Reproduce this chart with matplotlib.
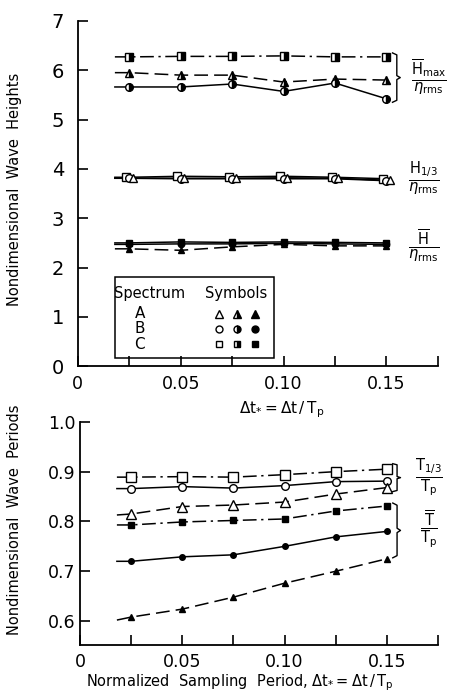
import matplotlib
matplotlib.use("Agg")
import matplotlib.pyplot as plt
from matplotlib.patches import Rectangle
from matplotlib.lines import Line2D
import matplotlib.transforms as mtransforms

# sampling periods (first entry = where the drawn lines begin)
dt = [0.018, 0.025, 0.05, 0.075, 0.10, 0.125, 0.15]

# wave heights / eta_rms
hmax_a = [5.95, 5.95, 5.90, 5.90, 5.76, 5.82, 5.80]
hmax_b = [5.66, 5.66, 5.66, 5.72, 5.57, 5.74, 5.42]
hmax_c = [6.27, 6.27, 6.28, 6.28, 6.29, 6.27, 6.27]
h13_a = [3.81, 3.81, 3.81, 3.81, 3.82, 3.81, 3.77]
h13_b = [3.81, 3.81, 3.80, 3.80, 3.80, 3.80, 3.76]
h13_c = [3.83, 3.83, 3.85, 3.84, 3.85, 3.83, 3.80]
hbar_a = [2.38, 2.38, 2.35, 2.42, 2.47, 2.44, 2.44]
hbar_b = [2.47, 2.47, 2.48, 2.48, 2.49, 2.48, 2.47]
hbar_c = [2.50, 2.50, 2.52, 2.51, 2.52, 2.51, 2.50]

# wave periods / Tp
t13_a = [0.813, 0.815, 0.830, 0.833, 0.839, 0.855, 0.868]
t13_b = [0.866, 0.866, 0.870, 0.867, 0.872, 0.880, 0.881]
t13_c = [0.889, 0.889, 0.890, 0.889, 0.894, 0.900, 0.905]
tbar_a = [0.602, 0.608, 0.624, 0.648, 0.676, 0.700, 0.725]
tbar_b = [0.720, 0.720, 0.729, 0.733, 0.750, 0.769, 0.780]
tbar_c = [0.793, 0.793, 0.799, 0.802, 0.805, 0.821, 0.831]

xticks = [0, 0.05, 0.10, 0.15]
xticklabels = ['0', '0.05', '0.10', '0.15']

K = 'black'
SOLID = '-'
DASH = (0, (9, 4))
DASHDOT = (0, (9, 3, 1.5, 3))

fig = plt.figure(figsize=(4.5, 6.95), dpi=100)
ax1 = fig.add_axes([0.173, 0.473, 0.80, 0.497])
ax2 = fig.add_axes([0.178, 0.072, 0.795, 0.321])


def style_axes(ax):
    for s in ['top', 'right']:
        ax.spines[s].set_visible(False)
    for s in ['left', 'bottom']:
        ax.spines[s].set_linewidth(1.3)
    ax.set_xlim(0, 0.175)
    ax.set_xticks(xticks)
    ax.set_xticklabels(xticklabels)
    ax.set_xticks([0.025, 0.075, 0.125, 0.175], minor=True)
    ax.tick_params(which='both', direction='in', length=7, width=1.2, labelsize=12.5)
    ax.tick_params(axis='x', pad=6)


def series(ax, y, marker, ls, fill='full', ms=6, dx=0.0):
    tr = ax.transData + mtransforms.ScaledTranslation(dx / 72, 0, fig.dpi_scale_trans)
    ax.plot(dt, y, color=K, lw=1.1, linestyle=ls, clip_on=False)
    ax.plot(dt[1:], y[1:], linestyle='none', marker=marker, ms=ms, mec=K, mew=1.0,
            mfc=K if fill != 'none' else 'white', fillstyle=fill if fill != 'none' else 'full',
            markerfacecoloralt='white', transform=tr, clip_on=False, zorder=3)


def brace(ax, x, y0, y1, w=0.012):
    tr = mtransforms.blended_transform_factory(ax.transAxes, ax.transData)
    ym = (y0 + y1) / 2
    ax.add_line(Line2D([x - w, x, x, x + w * 0.8, x, x, x - w],
                       [y1, y1 - (y1 - y0) * 0.04, ym + (y1 - y0) * 0.04, ym,
                        ym - (y1 - y0) * 0.04, y0 + (y1 - y0) * 0.04, y0],
                       color=K, lw=1.0, transform=tr, clip_on=False))


# ---- top panel: heights
style_axes(ax1)
ax1.set_ylim(0, 7)
ax1.set_yticks(range(8))
ax1.tick_params(axis='y', pad=10, labelsize=14)

series(ax1, hmax_c, 's', DASHDOT, fill='right')
series(ax1, hmax_a, '^', DASH, fill='right')
series(ax1, hmax_b, 'o', SOLID, fill='right', ms=5.5)
series(ax1, h13_c, 's', SOLID, fill='none', dx=-2.5)
series(ax1, h13_b, 'o', SOLID, fill='none', ms=5.5)
series(ax1, h13_a, '^', SOLID, fill='none', dx=2.5)
series(ax1, hbar_c, 's', SOLID, fill='full', ms=5)
series(ax1, hbar_b, 'o', SOLID, fill='full', ms=4.5)
series(ax1, hbar_a, '^', DASH, fill='full', ms=5)

trh = mtransforms.blended_transform_factory(ax1.transAxes, ax1.transData)
brace(ax1, 0.886, 5.35, 6.35)
ax1.text(0.975, 5.85, r'$\frac{\overline{\mathrm{H}}_{\mathrm{max}}}{\eta_{\mathrm{rms}}}$', transform=trh,
         ha='center', va='center', fontsize=15, clip_on=False)
ax1.text(0.96, 3.8, r'$\frac{\mathrm{H}_{1/3}}{\eta_{\mathrm{rms}}}$', transform=trh,
         ha='center', va='center', fontsize=15, clip_on=False)
ax1.text(0.96, 2.45, r'$\frac{\overline{\mathrm{H}}}{\eta_{\mathrm{rms}}}$', transform=trh,
         ha='center', va='center', fontsize=15, clip_on=False)

# symbol key
ax1.add_patch(Rectangle((0.103, 0.023), 0.441, 0.235, transform=ax1.transAxes,
                        fill=False, ec=K, lw=1.1, clip_on=False))
ax1.text(0.20, 0.212, 'Spectrum', transform=ax1.transAxes, ha='center', va='center', fontsize=10.5)
ax1.text(0.44, 0.212, 'Symbols', transform=ax1.transAxes, ha='center', va='center', fontsize=10.5)
spectra = ['A', 'B', 'C']
key_markers = ['^', 'o', 's']
row_y = [0.152, 0.108, 0.064]
for name, mk, yy in zip(spectra, key_markers, row_y):
    ax1.text(0.172, yy, name, transform=ax1.transAxes, ha='center', va='center', fontsize=11)
    for xx, fs in zip([0.392, 0.442, 0.492], ['none', 'right', 'full']):
        ax1.plot([xx], [yy], transform=ax1.transAxes, marker=mk, ms=5.5 if mk == '^' else 5,
                 mec=K, mew=1.0,
                 mfc='white' if fs == 'none' else K, fillstyle='full' if fs == 'none' else fs,
                 markerfacecoloralt='white', linestyle='none', clip_on=False)

fig.text(0.627, 0.41, r'$\Delta\mathrm{t}_{*} = \Delta\mathrm{t}\,/\,\mathrm{T_p}$',
         ha='center', va='center', fontsize=11)
fig.text(0.033, 0.727, 'Nondimensional  Wave  Heights', rotation=90,
         ha='center', va='center', fontsize=10.5)

# ---- bottom panel: periods
style_axes(ax2)
ax2.set_ylim(0.552, 1.0)
ax2.set_yticks([0.6, 0.7, 0.8, 0.9, 1.0])
ax2.set_yticklabels(['0.6', '0.7', '0.8', '0.9', '1.0'])

series(ax2, t13_c, 's', DASHDOT, fill='none', ms=6.5)
series(ax2, t13_b, 'o', SOLID, fill='none', ms=5.5)
series(ax2, t13_a, '^', DASH, fill='none', ms=6.5)
series(ax2, tbar_c, 's', DASHDOT, fill='full', ms=5)
series(ax2, tbar_b, 'o', SOLID, fill='full', ms=4)
series(ax2, tbar_a, '^', DASH, fill='full', ms=5)

trt = mtransforms.blended_transform_factory(ax2.transAxes, ax2.transData)
brace(ax2, 0.886, 0.860, 0.916)
brace(ax2, 0.886, 0.727, 0.837)
ax2.text(0.975, 0.887, r'$\frac{\mathrm{T}_{1/3}}{\mathrm{T_p}}$', transform=trt,
         ha='center', va='center', fontsize=15, clip_on=False)
ax2.text(0.975, 0.783, r'$\frac{\overline{\mathrm{T}}}{\mathrm{T_p}}$', transform=trt,
         ha='center', va='center', fontsize=15, clip_on=False)

fig.text(0.533, 0.018, r'Normalized  Sampling  Period, $\Delta\mathrm{t}_{*} = \Delta\mathrm{t}\,/\,\mathrm{T_p}$',
         ha='center', va='center', fontsize=10.5)
fig.text(0.033, 0.252, 'Nondimensional  Wave  Periods', rotation=90,
         ha='center', va='center', fontsize=10.5)

fig.savefig('out.png', dpi=100)
